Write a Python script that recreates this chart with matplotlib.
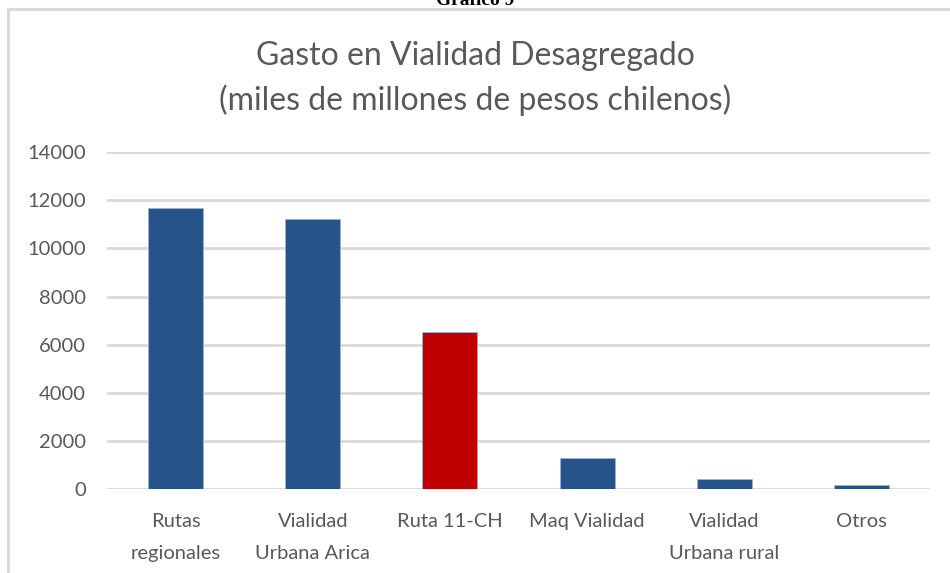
import matplotlib.pyplot as plt
from matplotlib.lines import Line2D

# datos
categorias = ["Rutas\nregionales", "Vialidad\nUrbana Arica", "Ruta 11-CH",
              "Maq Vialidad", "Vialidad\nUrbana rural", "Otros"]
gasto = [11680, 11220, 6530, 1300, 400, 170]
colores = ["#26548A", "#26548A", "#C00000", "#26548A", "#26548A", "#26548A"]
yticks = [0, 2000, 4000, 6000, 8000, 10000, 12000, 14000]

gris = "#595959"
fuente = ["Lato", "DejaVu Sans"]

fig = plt.figure(figsize=(9.5, 5.73), dpi=100)
ax = fig.add_axes([107/950, 1-489/573, 823/950, (489-152.3)/573])

x = range(len(categorias))
ax.bar(x, gasto, width=0.4, color=colores, edgecolor="#9DB3CF", linewidth=0.6, zorder=3)
ax.set_xlim(-0.5, len(categorias)-0.5)
ax.set_ylim(0, 14000)
ax.set_yticks(yticks)
ax.set_yticklabels([str(v) for v in yticks], fontsize=14.5, color=gris, family=fuente)
ax.set_xticks(list(x))
ax.set_xticklabels(categorias, fontsize=14.5, color=gris, family=fuente, linespacing=2.1)
ax.tick_params(length=0)
ax.tick_params(axis="x", pad=17)
ax.tick_params(axis="y", pad=15)
ax.grid(axis="y", color="#D9D9D9", linewidth=2, zorder=0)
for s in ax.spines.values():
    s.set_visible(False)

fig.text(0.5, 1-56/573, "Gasto en Vialidad Desagregado", ha="center", va="center",
         fontsize=23, color=gris, family=fuente)
fig.text(0.5, 1-100/573, "(miles de millones de pesos chilenos)", ha="center", va="center",
         fontsize=23, color=gris, family=fuente)

# titulo del documento, cortado arriba
fig.text(0.5, 1-5/573, "Gráfico 9", ha="center", va="baseline", fontsize=14,
         fontweight="bold", family=["Liberation Serif", "DejaVu Serif"], color="black")

# borde del area del grafico
fig.add_artist(Line2D([7.5/950, 1.0], [1-9/573, 1-9/573], color="#D9D9D9", linewidth=2.2))
fig.add_artist(Line2D([7.5/950, 7.5/950], [0, 1-9/573], color="#D9D9D9", linewidth=2.2))

fig.savefig("out.png", dpi=100)
